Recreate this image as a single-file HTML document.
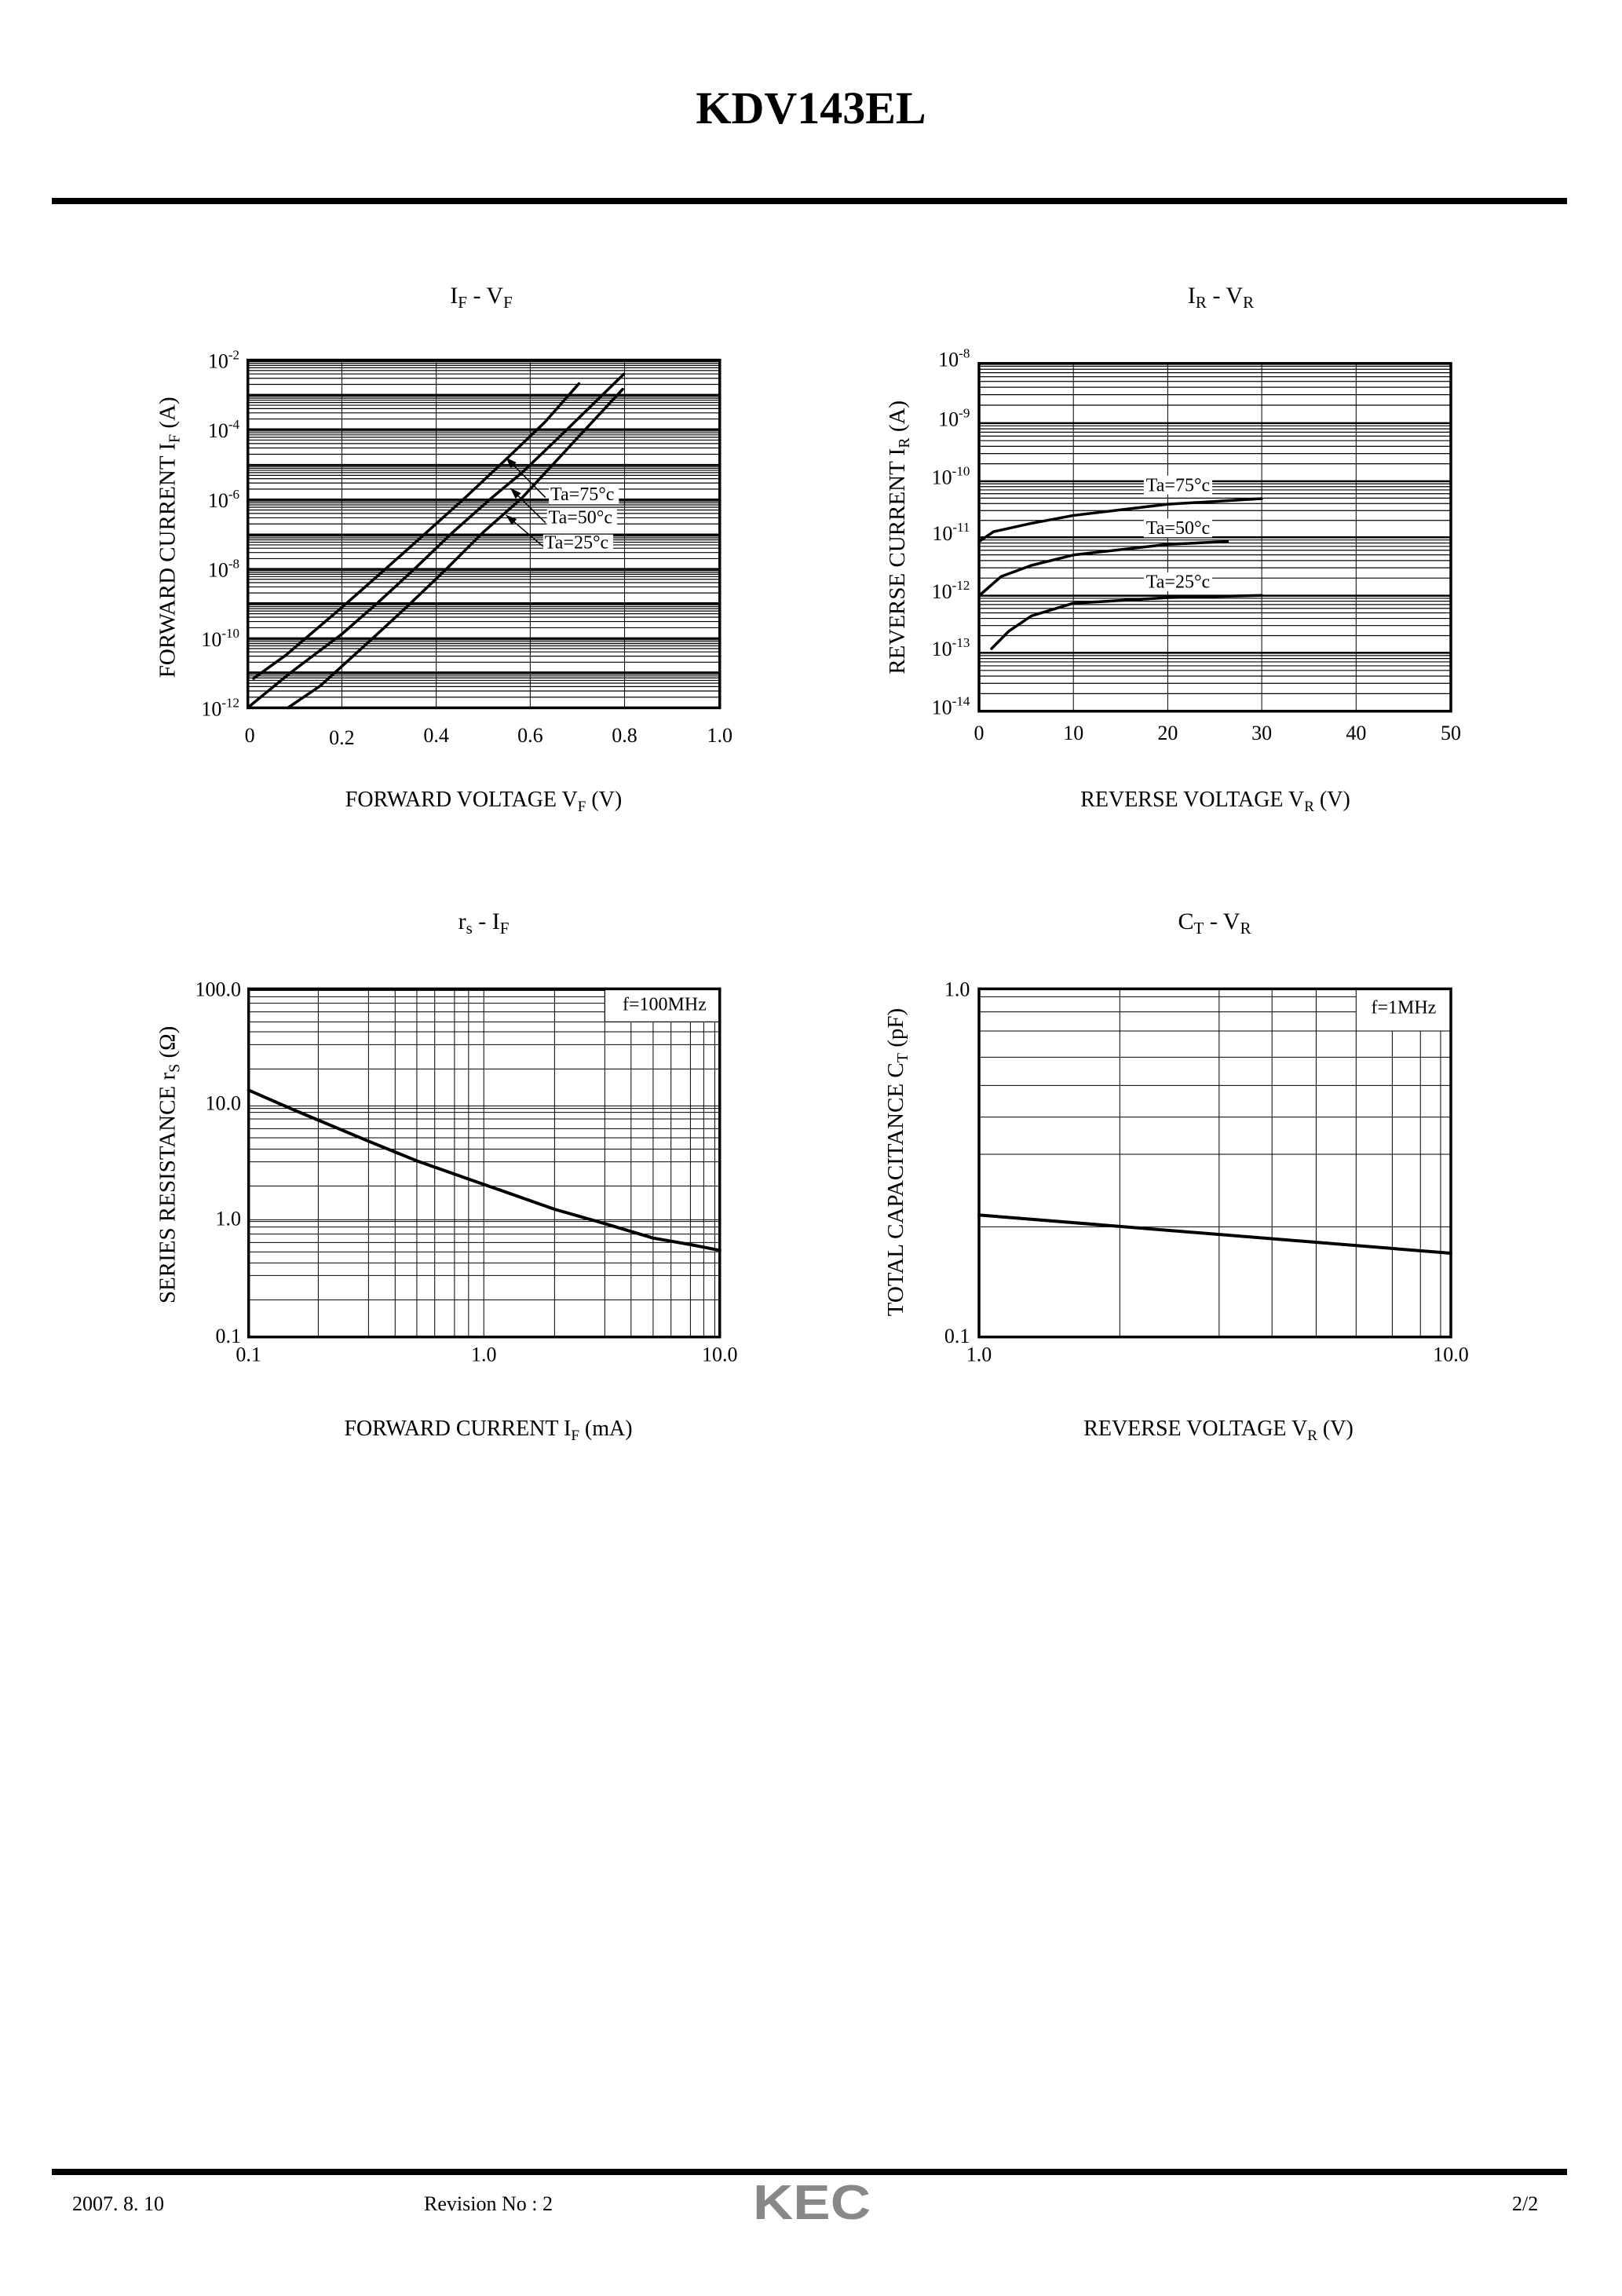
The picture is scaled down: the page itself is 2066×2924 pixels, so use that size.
<!DOCTYPE html>
<html><head><meta charset="utf-8"><style>
html,body{margin:0;padding:0;background:#fff;}
svg{display:block;font-family:"Liberation Serif",serif;}
</style></head><body>
<svg id="s" width="2066" height="2924" viewBox="0 0 2066 2924" xmlns="http://www.w3.org/2000/svg">
<rect width="2066" height="2924" fill="#fff"/>
<text x="1033" y="157" font-size="58" font-weight="bold" text-anchor="middle">KDV143EL</text>
<rect x="66" y="252" width="1930" height="8" fill="#000"/>
<text x="613" y="386" font-size="30" text-anchor="middle">I<tspan font-size="21" dy="6">F</tspan><tspan dy="-6"> - V</tspan><tspan font-size="21" dy="6">F</tspan></text>
<text x="1555" y="386" font-size="30" text-anchor="middle">I<tspan font-size="21" dy="6">R</tspan><tspan dy="-6"> - V</tspan><tspan font-size="21" dy="6">R</tspan></text>
<text x="616" y="1027" font-size="28" text-anchor="middle">FORWARD VOLTAGE V<tspan font-size="19" dy="6">F</tspan><tspan dy="-6"> (V)</tspan></text>
<text x="1548" y="1027" font-size="28" text-anchor="middle">REVERSE VOLTAGE  V<tspan font-size="19" dy="6">R</tspan><tspan dy="-6"> (V)</tspan></text>
<text x="616" y="1183" font-size="30" text-anchor="middle">r<tspan font-size="21" dy="6">s</tspan><tspan dy="-6"> - I</tspan><tspan font-size="21" dy="6">F</tspan></text>
<text x="1547" y="1183" font-size="30" text-anchor="middle">C<tspan font-size="21" dy="6">T</tspan><tspan dy="-6"> - V</tspan><tspan font-size="21" dy="6">R</tspan></text>
<text x="622" y="1828" font-size="28" text-anchor="middle">FORWARD CURRENT I<tspan font-size="19" dy="6">F</tspan><tspan dy="-6"> (mA)</tspan></text>
<text x="1552" y="1828" font-size="28" text-anchor="middle">REVERSE VOLTAGE V<tspan font-size="19" dy="6">R</tspan><tspan dy="-6"> (V)</tspan></text>
<g id="c1"></g><g id="c2"></g><g id="c3"></g><g id="c4"></g>
<rect x="66" y="2762" width="1930" height="8" fill="#000"/>
<text x="92" y="2815" font-size="26">2007. 8. 10</text>
<text x="540" y="2815" font-size="26">Revision No : 2</text>
<text x="1034" y="2826" font-size="62" font-weight="bold" fill="#888" text-anchor="middle" font-family="Liberation Sans, sans-serif" textLength="150" lengthAdjust="spacingAndGlyphs">KEC</text>
<text x="1926" y="2815" font-size="26">2/2</text>
</svg>
<script>
var NS="http://www.w3.org/2000/svg";
var OX,OY,SX=760/1568,SY;
function fx(z){return OX+z*SX;} function fy(z){return OY+z*SY;}
function el(g,t,a,txt){var e=document.createElementNS(NS,t);for(var k in a)e.setAttribute(k,a[k]);if(txt!==undefined)e.textContent=txt;g.appendChild(e);return e;}
function L(g,x1,y1,x2,y2,w){el(g,"line",{x1:fx(x1),y1:fy(y1),x2:fx(x2),y2:fy(y2),stroke:"#000","stroke-width":w});}
function P(g,pts,w){el(g,"polyline",{points:pts.map(function(p){return fx(p[0])+","+fy(p[1])}).join(" "),fill:"none",stroke:"#000","stroke-width":w,"stroke-linejoin":"round","stroke-linecap":"round"});}
function R(g,x0,y0,x1,y1,w,fill){el(g,"rect",{x:fx(x0),y:fy(y0),width:fx(x1)-fx(x0),height:fy(y1)-fy(y0),fill:fill||"none",stroke:fill?"none":"#000","stroke-width":w||0});}
function T(g,x,y,html,fs,anchor,extra){var e=el(g,"text",{x:fx(x),y:fy(y),"font-size":fs,"text-anchor":anchor||"middle"});e.innerHTML=html;if(extra)for(var k in extra)e.setAttribute(k,extra[k]);return e;}
function TR(g,x,y,html,fs){var e=el(g,"text",{x:0,y:0,"font-size":fs,"text-anchor":"middle",transform:"translate("+fx(x)+","+fy(y)+") rotate(-90)"});e.innerHTML=html;}
var lg=[0.301,0.477,0.602,0.699,0.778,0.845,0.903,0.954];

// Chart 1
OX=180;OY=420;SY=560/1568;
var g=document.getElementById("c1");
var X0=280,X1=1520,Y0=108,Y1=1348;
var dec=[1348,1222,1100,975,853,730,605,482,355,232,108];
for(var i=0;i<dec.length-1;i++){var b=dec[i],t=dec[i+1];lg.forEach(function(v){L(g,X0,b-v*(b-t),X1,b-v*(b-t),1.2);});}
dec.forEach(function(y){L(g,X0,y,X1,y,2.5);});
[527,775,1022,1270].forEach(function(x){L(g,x,Y0,x,Y1,1);});
R(g,X0,Y0,X1,Y1,3.5);
P(g,[[295,1243],[380,1160],[527,990],[640,855],[735,740],[850,600],[960,460],[1060,330],[1150,192]],3.5);
P(g,[[282,1345],[390,1225],[527,1085],[620,975],[720,850],[820,720],[920,600],[1000,510],[1100,380],[1268,158]],3.5);
P(g,[[385,1348],[470,1270],[527,1200],[600,1110],[700,985],[800,855],[900,720],[1000,600],[1150,380],[1265,212]],3.5);
[[1062,598,958,455],[1062,688,970,565],[1058,775,958,660]].forEach(function(a){L(g,a[0],a[1],a[2],a[3],1.5);
 var x2=fx(a[2]),y2=fy(a[3]),dx=x2-fx(a[0]),dy=y2-fy(a[1]),l=Math.hypot(dx,dy),ux=dx/l,uy=dy/l;
 el(g,"polygon",{points:x2+","+y2+" "+(x2-ux*14-uy*5)+","+(y2-uy*14+ux*5)+" "+(x2-ux*14+uy*5)+","+(y2-uy*14-ux*5),fill:"#000"});});
[["75",607,1075],["50",690,1070],["25",780,1060]].forEach(function(r){R(g,r[2]-4,r[1]-50,r[2]+180,r[1]+12,0,"#fff");T(g,r[2],r[1],"Ta=75°c".replace("75",r[0]),24,"start");});
var yl=["-2","-4","-6","-8","-10","-12"];
[108,355,605,853,1100,1348].forEach(function(y,i){T(g,258,y+28,"10<tspan dy='-11' font-size='17'>"+yl[i]+"</tspan>",26,"end");});
[["0",285,1470],["0.2",527,1478],["0.4",775,1470],["0.6",1022,1470],["0.8",1270,1470],["1.0",1520,1470]].forEach(function(a){T(g,a[1],a[2],a[0],26);});
TR(g,88,740,"FORWARD CURRENT  I<tspan font-size='20' dy='6'>F</tspan><tspan dy='-6'> (A)</tspan>",29);

// Chart 2
OX=1120;OY=420;SY=560/1568;
g=document.getElementById("c2");
X0=262;X1=1502;Y0=120;Y1=1360;
dec=[1360,1152,948,740,540,333,120];
for(var i=0;i<dec.length-1;i++){var b=dec[i],t=dec[i+1];lg.forEach(function(v){L(g,X0,b-v*(b-t),X1,b-v*(b-t),1.2);});}
dec.forEach(function(y){L(g,X0,y,X1,y,2.5);});
[510,758,1005,1253].forEach(function(x){L(g,x,Y0,x,Y1,1);});
R(g,X0,Y0,X1,Y1,3.5);
[["75",575],["50",728],["25",920]].forEach(function(r){R(g,695,r[1]-55,875,r[1]+12,0,"#fff");T(g,785,r[1],"Ta="+r[0]+"°c",24);});
P(g,[[262,755],[300,720],[400,690],[510,662],[758,622],[1005,602]],3.5);
P(g,[[265,945],[320,880],[400,840],[510,803],[758,765],[915,755]],3.5);
P(g,[[295,1137],[340,1075],[400,1020],[510,975],[758,955],[1005,947]],3.5);
yl=["-8","-9","-10","-11","-12","-13","-14"];
[120,333,540,740,948,1152,1360].forEach(function(y,i){T(g,238,y+10,"10<tspan dy='-11' font-size='17'>"+yl[i]+"</tspan>",26,"end");});
[0,10,20,30,40,50].forEach(function(v,i){T(g,[262,510,758,1005,1253,1502][i],1462,""+v,26);});
TR(g,66,740,"REVERSE CURRENT  I<tspan font-size='20' dy='6'>R</tspan><tspan dy='-6'> (A)</tspan>",29);

// Chart 3
OX=180;OY=1240;SY=1/3;
g=document.getElementById("c3");
X0=282;X1=1520;Y0=58;Y1=1388;
[64,88,113,146,184,222,271,364,505,515,530,555,592,627,670,719,811,940,947,968,995,1027,1063,1105,1153,1246].forEach(function(y){L(g,X0,y,y<184?1218:X1,y,1);});
[465,597,667,724,771,823,860,900,1086,1218,1287,1345,1392,1443,1478,1507].forEach(function(x){L(g,x,x>1218?184:Y0,x,Y1,1);});
L(g,1218,Y0,1218,184,1);L(g,1218,184,X1,184,1);
R(g,X0,Y0,X1,Y1,3.5);
T(g,1375,140,"f=100MHz",24);
P(g,[[282,445],[400,520],[597,640],[724,715],[900,805],[1086,900],[1218,955],[1345,1010],[1443,1035],[1520,1057]],4);
[["100.0",85],["10.0",520],["1.0",962],["0.1",1410]].forEach(function(a){T(g,262,a[1],a[0],26,"end");});
[["0.1",282],["1.0",900],["10.0",1520]].forEach(function(a){T(g,a[1],1480,a[0],26);});
TR(g,88,730,"SERIES RESISTANCE r<tspan font-size='20' dy='6'>S</tspan><tspan dy='-6'> (Ω)</tspan>",29);

// Chart 4
OX=1120;OY=1240;SY=1/3;
g=document.getElementById("c4");
X0=262;X1=1502;Y0=58;Y1=1388;
[967,690,548,427,319,219,146,88].forEach(function(y){L(g,X0,y,y<219?1253:X1,y,1);});
[632,893,1032,1148,1253,1348,1422,1475].forEach(function(x){L(g,x,x>1253?219:Y0,x,Y1,1);});
L(g,1253,219,X1,219,1);
R(g,X0,Y0,X1,Y1,3.5);
T(g,1378,152,"f=1MHz",24);
P(g,[[262,922],[1502,1068]],4);
T(g,238,85,"1.0",26,"end");T(g,238,1410,"0.1",26,"end");
T(g,262,1480,"1.0",26);T(g,1502,1480,"10.0",26);
TR(g,62,720,"TOTAL CAPACITANCE C<tspan font-size='20' dy='6'>T</tspan><tspan dy='-6'> (pF)</tspan>",29);
</script>
</body></html>
